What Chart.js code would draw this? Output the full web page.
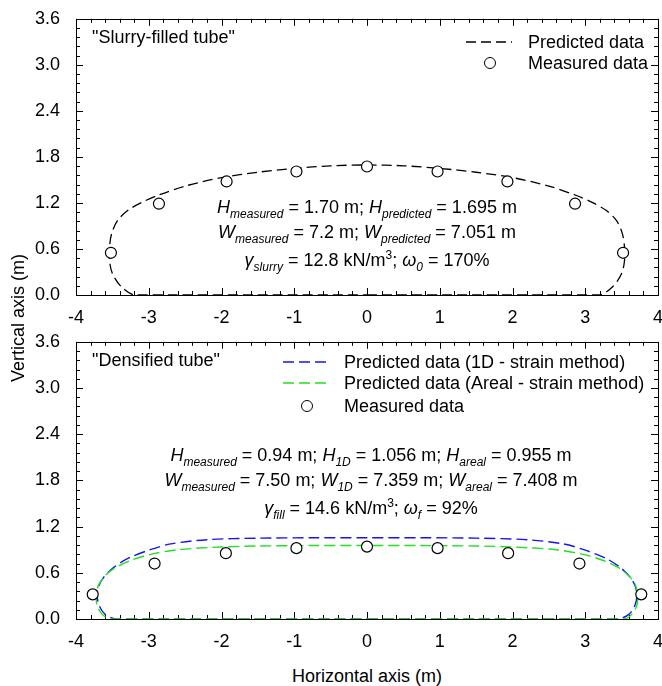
<!DOCTYPE html>
<html>
<head>
<meta charset="utf-8">
<script src="https://cdn.jsdelivr.net/npm/chart.js@4.4.1/dist/chart.umd.min.js"></script>
<style>
body{margin:0;background:#fff;overflow:hidden}
#page{position:relative;width:662px;height:686px;overflow:hidden;font-family:"Liberation Sans",Arial,sans-serif;color:#000}
canvas{position:absolute;left:0}
.t{position:absolute;font-size:18px;line-height:20px;white-space:nowrap}
.note{width:520px;text-align:center}
.t sub{font-size:12px;font-style:italic;vertical-align:-5px;line-height:0}
.t sup{font-size:12px;vertical-align:7px;line-height:0}
.mk{position:absolute;width:10px;height:10px;border:1.2px solid #000;border-radius:50%;background:#fff}
svg{position:absolute}
</style>
</head>
<body>
<div id="page">
<canvas id="topChart" width="670" height="330" style="top:0"></canvas>
<canvas id="botChart" width="670" height="330" style="top:323px"></canvas>

<div class="t" style="left:92px;top:27px">"Slurry-filled tube"</div>
<svg width="50" height="4" style="left:465px;top:40px"><line x1="1" y1="2" x2="47" y2="2" stroke="#000" stroke-width="1.3" stroke-dasharray="10,5"/></svg>
<div class="t" style="left:528px;top:32px">Predicted data</div>
<div class="mk" style="left:484px;top:57px"></div>
<div class="t" style="left:528px;top:53px">Measured data</div>
<div class="t note" style="left:107px;top:197px"><i>H</i><sub>measured</sub> = 1.70 m; <i>H</i><sub>predicted</sub> = 1.695 m</div>
<div class="t note" style="left:107px;top:222px"><i>W</i><sub>measured</sub> = 7.2 m; <i>W</i><sub>predicted</sub> = 7.051 m</div>
<div class="t note" style="left:107px;top:250px"><i>γ</i><sub>slurry</sub> = 12.8 kN/m<sup>3</sup>; <i>ω</i><sub>0</sub> = 170%</div>

<div class="t" style="left:92px;top:350px">"Densified tube"</div>
<svg width="50" height="4" style="left:282px;top:360px"><line x1="1" y1="2" x2="47" y2="2" stroke="#1414f0" stroke-width="1.4" stroke-dasharray="11,5"/></svg>
<div class="t" style="left:344px;top:352px">Predicted data (1D - strain method)</div>
<svg width="50" height="4" style="left:282px;top:381px"><line x1="1" y1="2" x2="47" y2="2" stroke="#22e022" stroke-width="1.4" stroke-dasharray="11,5"/></svg>
<div class="t" style="left:344px;top:373px">Predicted data (Areal - strain method)</div>
<div class="mk" style="left:301px;top:400px"></div>
<div class="t" style="left:344px;top:396px">Measured data</div>
<div class="t note" style="left:111px;top:445px"><i>H</i><sub>measured</sub> = 0.94 m; <i>H</i><sub>1D</sub> = 1.056 m; <i>H</i><sub>areal</sub> = 0.955 m</div>
<div class="t note" style="left:111px;top:470px"><i>W</i><sub>measured</sub> = 7.50 m; <i>W</i><sub>1D</sub> = 7.359 m; <i>W</i><sub>areal</sub> = 7.408 m</div>
<div class="t note" style="left:111px;top:498px"><i>γ</i><sub>fill</sub> = 14.6 kN/m<sup>3</sup>; <i>ω</i><sub>f</sub> = 92%</div>

<div class="t" style="left:-82px;top:308px;width:200px;text-align:center;transform:rotate(-90deg)">Vertical axis (m)</div>
<div class="t" style="left:217px;top:666px;width:300px;text-align:center">Horizontal axis (m)</div>
</div>

<script>
// top panel: slurry-filled tube
var topPredX = [0, 1.5, 2.7, 3.2, 3.38, 3.5, 3.54, 3.54, 3.51, 3.43, 3.29, 3.11, 2.87, 2.5, 2.0, 1.5, 1.0, 0.5, 0, -0.5, -1.0, -1.5, -2.0, -2.5, -2.87, -3.11, -3.29, -3.43, -3.51, -3.54, -3.54, -3.5, -3.38, -3.2, -2.7, -1.5, 0];
var topPredY = [0, 0, 0, 0, 0.11, 0.28, 0.45, 0.62, 0.8, 0.97, 1.1, 1.2, 1.3, 1.42, 1.53, 1.6, 1.65, 1.684, 1.695, 1.684, 1.65, 1.6, 1.53, 1.42, 1.3, 1.2, 1.1, 0.97, 0.8, 0.62, 0.45, 0.28, 0.11, 0, 0, 0, 0];
var topMeasX = [-3.52, -2.86, -1.93, -0.97, 0, 0.97, 1.93, 2.86, 3.52];
var topMeasY = [0.55, 1.19, 1.48, 1.61, 1.675, 1.61, 1.48, 1.19, 0.55];

// bottom panel: densified tube
var oneDX = [0, 1.5, 2.8, 3.45, 3.6, 3.68, 3.71, 3.69, 3.62, 3.48, 3.28, 2.98, 2.7, 2.2, 1.5, 0.75, 0, -0.75, -1.5, -2.2, -2.7, -2.98, -3.28, -3.48, -3.62, -3.69, -3.71, -3.68, -3.6, -3.45, -2.8, -1.5, 0];
var oneDY = [0, 0, 0, 0, 0.06, 0.17, 0.3, 0.42, 0.54, 0.67, 0.79, 0.9, 0.975, 1.03, 1.05, 1.055, 1.056, 1.055, 1.05, 1.03, 0.975, 0.9, 0.79, 0.67, 0.54, 0.42, 0.3, 0.17, 0.06, 0, 0, 0, 0];
var arealX = [0, 1.5, 2.8, 3.53, 3.64, 3.71, 3.72, 3.69, 3.6, 3.47, 3.25, 2.97, 2.6, 2.0, 1.5, 0.75, 0, -0.75, -1.5, -2.0, -2.6, -2.97, -3.25, -3.47, -3.6, -3.69, -3.72, -3.71, -3.64, -3.53, -2.8, -1.5, 0];
var arealY = [0, 0, 0, 0, 0.06, 0.18, 0.3, 0.44, 0.56, 0.66, 0.76, 0.84, 0.9, 0.935, 0.948, 0.954, 0.955, 0.954, 0.948, 0.935, 0.9, 0.84, 0.76, 0.66, 0.56, 0.44, 0.3, 0.18, 0.06, 0, 0, 0, 0];
var botMeasX = [-3.77, -2.92, -1.94, -0.97, 0, 0.97, 1.94, 2.92, 3.77];
var botMeasY = [0.32, 0.72, 0.855, 0.92, 0.94, 0.92, 0.855, 0.72, 0.32];

function pts(xs, ys) {
    return xs.map(function(x, i) { return {x: x, y: ys[i]}; });
}

// box around plot + inward ticks on all four sides
var frameTicks = {
    id: 'frameTicks',
    beforeDatasetsDraw: function(chart) {
        var ctx = chart.ctx, a = chart.chartArea;
        var xs = chart.scales.x, ys = chart.scales.y;
        ctx.save();
        ctx.strokeStyle = '#000';
        ctx.lineWidth = 1;
        ctx.strokeRect(Math.round(a.left) + 0.5, Math.round(a.top) + 0.5, Math.round(a.right - a.left), Math.round(a.bottom - a.top));
        ctx.beginPath();
        for (var i = 0; i <= 40; i++) {
            var px = Math.round(xs.getPixelForValue(-4 + i * 0.2)) + 0.5;
            var len = (i % 5 == 0) ? 7 : 4;
            ctx.moveTo(px, a.bottom); ctx.lineTo(px, a.bottom - len);
            ctx.moveTo(px, a.top); ctx.lineTo(px, a.top + len);
        }
        for (var j = 0; j <= 30; j++) {
            var py = Math.round(ys.getPixelForValue(j * 0.12)) + 0.5;
            var l2 = (j % 5 == 0) ? 7 : 4;
            ctx.moveTo(a.left, py); ctx.lineTo(a.left + l2, py);
            ctx.moveTo(a.right, py); ctx.lineTo(a.right - l2, py);
        }
        ctx.stroke();
        ctx.restore();
    }
};

function makePanel(id, datasets, xHeight) {
    var ctx = document.getElementById(id).getContext('2d');
    return new Chart(ctx, {
        type: 'scatter',
        data: {datasets: datasets},
        plugins: [frameTicks],
        options: {
            responsive: false,
            animation: false,
            layout: {padding: {top: 16, right: 12, left: 0, bottom: 0}},
            plugins: {legend: {display: false}, tooltip: {enabled: false}},
            scales: {
                x: {
                    min: -4, max: 4,
                    grid: {display: false},
                    border: {display: false},
                    ticks: {stepSize: 1, padding: 4, color: '#000', font: {family: 'Liberation Sans', size: 18},
                            maxRotation: 0, callback: function(v) { return String(v); }},
                    afterFit: function(s) { s.height = xHeight; }
                },
                y: {
                    min: 0, max: 3.6,
                    grid: {display: false},
                    border: {display: false},
                    ticks: {stepSize: 0.6, padding: 8, color: '#000', font: {family: 'Liberation Sans', size: 18},
                            callback: function(v) { return v.toFixed(1); }},
                    afterFit: function(s) { s.width = 76; }
                }
            }
        }
    });
}

var measStyle = {
    showLine: false, pointRadius: 5.5, pointBackgroundColor: '#fff',
    pointBorderColor: '#000', pointBorderWidth: 1.2
};

makePanel('topChart', [
    Object.assign({label: 'Measured data', data: pts(topMeasX, topMeasY)}, measStyle),
    {label: 'Predicted data', data: pts(topPredX, topPredY), showLine: true, pointRadius: 0,
     borderColor: '#000', borderWidth: 1.3, borderDash: [10, 5], tension: 0.3, fill: false}
], 35);

makePanel('botChart', [
    Object.assign({label: 'Measured data', data: pts(botMeasX, botMeasY)}, measStyle),
    {label: 'Predicted data (Areal - strain method)', data: pts(arealX, arealY), showLine: true, pointRadius: 0,
     borderColor: '#22e022', borderWidth: 1.4, borderDash: [11, 5], tension: 0.3, fill: false},
    {label: 'Predicted data (1D - strain method)', data: pts(oneDX, oneDY), showLine: true, pointRadius: 0,
     borderColor: '#1414f0', borderWidth: 1.4, borderDash: [11, 5], tension: 0.3, fill: false}
], 34);
</script>
</body>
</html>
